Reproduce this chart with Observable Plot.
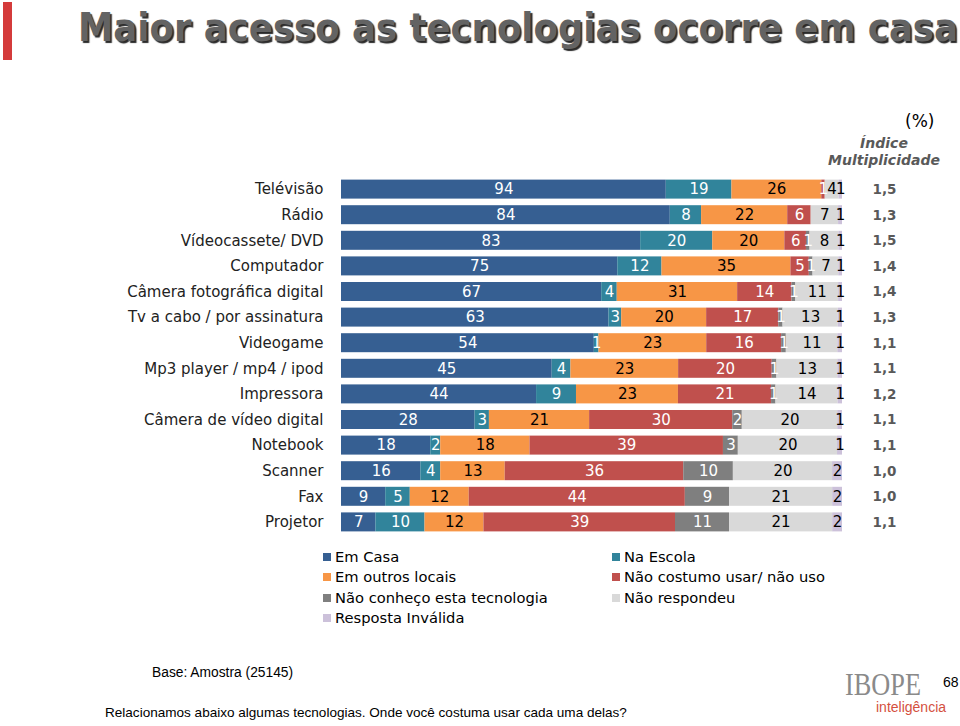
<!DOCTYPE html>
<html><head><meta charset="utf-8">
<script src="https://cdn.jsdelivr.net/npm/d3@7"></script>
<script src="https://cdn.jsdelivr.net/npm/@observablehq/plot@0.6"></script>
<style>
body{margin:0;background:#fff;width:960px;height:726px;position:relative;overflow:hidden;font-family:"DejaVu Sans",sans-serif;}
.abs{position:absolute;white-space:nowrap;}
#chart{position:absolute;left:0;top:0;}
.lg{position:absolute;font-family:"DejaVu Sans",sans-serif;font-size:14.7px;color:#000;white-space:nowrap;line-height:1;}
.lg span.sw{display:inline-block;width:8px;height:8px;margin-right:4px;vertical-align:1px;}
</style></head><body>
<div class="abs" style="left:3px;top:2px;width:9px;height:58px;background:#d43b3b"></div>
<div id="title" class="abs" style="left:78px;top:5px;font-family:'DejaVu Sans';font-weight:bold;font-size:39px;color:#636363;text-shadow:2px 2px 1px #2a2a2a;transform-origin:0 0;">Maior acesso as tecnologias ocorre em casa</div>
<div id="chart"></div>
<div class="abs" style="left:905px;top:111px;font-size:17px;color:#000;">(%)</div>
<div class="abs" style="left:804px;width:160px;text-align:center;top:135px;font-size:14px;font-weight:bold;font-style:italic;color:#595959;line-height:17px;">Índice<br>Multiplicidade</div>
<div id="legend"></div>
<div class="abs" style="left:152px;top:665px;font-family:'Liberation Sans';font-size:13.8px;color:#000;">Base: Amostra (25145)</div>
<div class="abs" style="left:105px;top:705px;font-family:'Liberation Sans';font-size:13.55px;color:#000;">Relacionamos abaixo algumas tecnologias. Onde você costuma usar cada uma delas?</div>
<div id="ibope" class="abs" style="left:845px;top:671px;font-family:'Liberation Serif';font-size:31px;color:#8a8a8a;line-height:27px;height:27px;transform-origin:0 0;">IBOPE</div>
<div class="abs" style="left:876px;top:700px;font-family:'Liberation Sans';font-size:14px;color:#d4503e;line-height:15px;">inteligência</div>
<div class="abs" style="left:943px;top:675px;font-family:'Liberation Sans';font-size:14px;color:#000;line-height:1;">68</div>
<script>
const categories = ["Telévisão","Rádio","Vídeocassete/ DVD","Computador","Câmera fotográfica digital","Tv a cabo / por assinatura","Videogame","Mp3 player / mp4 / ipod","Impressora","Câmera de vídeo digital","Notebook","Scanner","Fax","Projetor"];
const series = ["Em Casa","Na Escola","Em outros locais","Não costumo usar/ não uso","Não conheço esta tecnologia","Não respondeu","Resposta Inválida"];
const colors = ["#365f92","#31849b","#f79646","#c0504d","#7f7f7f","#d9d9d9","#ccc1da"];
const emCasa = [94,84,83,75,67,63,54,45,44,28,18,16,9,7];
const naEscola = [19,8,20,12,4,3,1,4,9,3,2,4,5,10];
const outrosLocais = [26,22,20,35,31,20,23,23,23,21,18,13,12,12];
const naoCostumo = [1,6,6,5,14,17,16,20,21,30,39,36,44,39];
const naoConheco = [0,0,1,1,1,1,1,1,1,2,3,10,9,11];
const naoRespondeu = [4,7,8,7,11,13,11,13,14,20,20,20,21,21];
const respostaInvalida = [1,1,1,1,1,1,1,1,1,1,1,2,2,2];
const indice = ["1,5","1,3","1,5","1,4","1,4","1,3","1,1","1,1","1,2","1,1","1,1","1,0","1,0","1,1"];
const darkLabelSeries = ["Em Casa","Na Escola","Não costumo usar/ não uso","Não conheço esta tecnologia"];

const seriesValues = [emCasa,naEscola,outrosLocais,naoCostumo,naoConheco,naoRespondeu,respostaInvalida];
const rows = [];
categories.forEach((c,i)=>seriesValues.forEach((arr,j)=>rows.push({cat:c,series:series[j],value:arr[i]})));
const idxRows = categories.map((c,i)=>({cat:c,idx:indice[i]}));

const st = (extra)=>Plot.stackX({offset:"normalize",order:series,x:"value",y:"cat",z:"series",...extra});

const chart = Plot.plot({
  width:960, height:726,
  marginLeft:341, marginRight:118, marginTop:173, marginBottom:188,
  style:{fontFamily:"DejaVu Sans",background:"transparent",overflow:"visible"},
  x:{domain:[0,1],axis:null},
  y:{domain:categories,padding:0.258,round:false,label:null,axis:null},
  color:{domain:series,range:colors},
  marks:[
    Plot.barX(rows, st({fill:"series"})),
    Plot.text(rows, st({text:d=>(d.value>0 && darkLabelSeries.includes(d.series))?String(d.value):null,fill:"white",fontSize:15})),
    Plot.text(rows, st({text:d=>(d.value>0 && !darkLabelSeries.includes(d.series))?String(d.value):null,fill:"black",fontSize:15})),
    Plot.axisY({tickSize:0,tickPadding:18,fontSize:15,label:null,fill:"#222"}),
    Plot.text(idxRows,{y:"cat",text:"idx",frameAnchor:"right",dx:30,textAnchor:"start",fontWeight:"bold",fill:"#595959",fontSize:13.5})
  ]
});
document.getElementById("chart").appendChild(chart);

// legend
const lg = document.getElementById("legend");
const legendPos = [[323,550],[612,550],[323,570],[612,570],[323,591],[612,591],[323,611]];
series.forEach((s,i)=>{
  const d=document.createElement("div");
  d.className="lg";
  d.style.left=legendPos[i][0]+"px"; d.style.top=legendPos[i][1]+"px";
  d.innerHTML=`<span class="sw" style="background:${colors[i]}"></span>${s}`;
  lg.appendChild(d);
});

// fit title width
const t=document.getElementById("title");
t.style.transform=`scaleX(${880/t.getBoundingClientRect().width})`;
const ib=document.getElementById("ibope");
ib.style.transform=`scaleX(${76/ib.getBoundingClientRect().width})`;
</script>
</body></html>
